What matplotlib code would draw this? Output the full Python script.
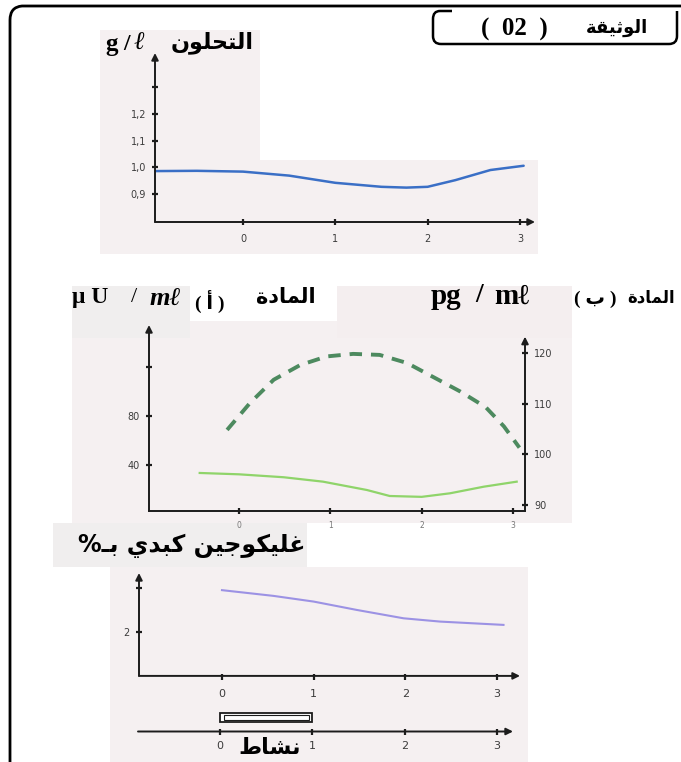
import matplotlib
matplotlib.use("Agg")
import matplotlib.pyplot as plt
from matplotlib.patches import Rectangle, PathPatch
from matplotlib.path import Path

# ---------------- data ----------------
hours_ticks = [0, 1, 2, 3]

glycemia_t = [-0.95, -0.5, 0.0, 0.5, 1.0, 1.5, 1.77, 2.0, 2.3, 2.68, 3.04]
glycemia_v = [0.986, 0.987, 0.984, 0.969, 0.942, 0.927, 0.924, 0.927, 0.952, 0.990, 1.006]
glycemia_ticks = [0.9, 1.0, 1.1, 1.2, 1.3]
glycemia_labels = ["0,9", "1,0", "1,1", "1,2", ""]

insulin_t = [-0.43, 0.0, 0.49, 0.92, 1.4, 1.65, 2.0, 2.31, 2.68, 3.04]
insulin_v = [33.5, 32.4, 30.0, 26.4, 19.6, 14.7, 14.0, 16.9, 22.3, 26.4]
insulin_ticks = [40, 80, 120]
insulin_labels = ["40", "80", ""]

glucagon_t = [-0.13, 0.12, 0.38, 0.67, 0.96, 1.25, 1.54, 1.84, 2.13, 2.42, 2.70, 2.90, 3.07]
glucagon_v = [104.8, 110.1, 114.7, 117.6, 119.3, 119.8, 119.6, 118.0, 115.2, 112.4, 109.3, 105.5, 101.3]
glucagon_ticks = [90, 100, 110, 120]

glycogen_t = [0.0, 0.56, 1.0, 1.47, 1.98, 2.38, 3.07]
glycogen_v = [3.90, 3.64, 3.38, 3.00, 2.62, 2.47, 2.32]
glycogen_ticks = [2, 4]
glycogen_labels = ["2", ""]

activity_start, activity_end = 0, 1

# ---------------- minimal Arabic shaping (presentation forms) ----------------
AR_FORMS = {
    'ا': ('\uFE8D', '\uFE8E', None, None),
    'أ': ('\uFE83', '\uFE84', None, None),
    'ب': ('\uFE8F', '\uFE90', '\uFE91', '\uFE92'),
    'ة': ('\uFE93', '\uFE94', None, None),
    'ت': ('\uFE95', '\uFE96', '\uFE97', '\uFE98'),
    'ث': ('\uFE99', '\uFE9A', '\uFE9B', '\uFE9C'),
    'ج': ('\uFE9D', '\uFE9E', '\uFE9F', '\uFEA0'),
    'ح': ('\uFEA1', '\uFEA2', '\uFEA3', '\uFEA4'),
    'د': ('\uFEA9', '\uFEAA', None, None),
    'ش': ('\uFEB5', '\uFEB6', '\uFEB7', '\uFEB8'),
    'ط': ('\uFEC1', '\uFEC2', '\uFEC3', '\uFEC4'),
    'غ': ('\uFECD', '\uFECE', '\uFECF', '\uFED0'),
    'ق': ('\uFED5', '\uFED6', '\uFED7', '\uFED8'),
    'ك': ('\uFED9', '\uFEDA', '\uFEDB', '\uFEDC'),
    'ل': ('\uFEDD', '\uFEDE', '\uFEDF', '\uFEE0'),
    'م': ('\uFEE1', '\uFEE2', '\uFEE3', '\uFEE4'),
    'ن': ('\uFEE5', '\uFEE6', '\uFEE7', '\uFEE8'),
    'و': ('\uFEED', '\uFEEE', None, None),
    'ي': ('\uFEF1', '\uFEF2', '\uFEF3', '\uFEF4'),
    'ـ': ('\u0640', '\u0640', '\u0640', '\u0640'),
}


def ar(s):
    chars = list(s)
    out = []

    def dual(c):
        return c in AR_FORMS and AR_FORMS[c][2] is not None

    for i, c in enumerate(chars):
        if c not in AR_FORMS:
            out.append(c)
            continue
        pj = i > 0 and dual(chars[i - 1])
        nj = i < len(chars) - 1 and chars[i + 1] in AR_FORMS and dual(c)
        iso, fin, ini, med = AR_FORMS[c]
        if pj and nj:
            g = med
        elif pj:
            g = fin
        elif nj:
            g = ini
        else:
            g = iso
        out.append(g)
    return ''.join(reversed(out))


# ---------------- figure ----------------
W, H = 681, 762
fig = plt.figure(figsize=(W / 100, H / 100), dpi=100)
fig.patch.set_facecolor("white")

AXC = "#1c1c1c"
TICKC = "#3c3c3c"
SERIF = ["Liberation Serif", "DejaVu Serif", "DejaVu Sans"]
ARF = ["DejaVu Sans"]


def ax_at(x0, x1, ytop, ybot):
    return fig.add_axes([x0 / W, 1 - ybot / H, (x1 - x0) / W, (ybot - ytop) / H])


# background / frame layer in pixel coordinates
bg = fig.add_axes([0, 0, 1, 1], zorder=-5)
bg.set_xlim(0, W)
bg.set_ylim(H, 0)
bg.axis("off")
PINK = "#f5f0f1"
GREY = "#f0eeee"
for (x0, y0, x1, y1, c) in [
    (100, 30, 538, 254, PINK), (260, 30, 538, 160, "white"),
    (72, 286, 572, 523, PINK), (72, 286, 190, 338, GREY), (190, 286, 337, 321, "white"),
    (97, 338, 572, 523, PINK), (337, 286, 572, 338, "#f4eeef"),
    (53, 523, 307, 567, GREY), (110, 567, 528, 762, PINK),
]:
    bg.add_patch(Rectangle((x0, y0), x1 - x0, y1 - y0, facecolor=c, edgecolor="none"))

# outer frame (left + top with rounded corner)
fv = [(10, 762), (10, 20), (10, 7), (22, 6), (681, 6)]
fc = [Path.MOVETO, Path.LINETO, Path.CURVE3, Path.CURVE3, Path.LINETO]
bg.add_patch(PathPatch(Path(fv, fc), facecolor="none", edgecolor="black", lw=2.0))
# title box
tv = [(452, 11), (440, 11), (433, 11), (433, 19), (433, 36), (433, 44), (441, 44),
      (669, 44), (677, 44), (677, 36), (677, 11)]
tc = [Path.MOVETO, Path.LINETO, Path.CURVE3, Path.CURVE3, Path.LINETO, Path.CURVE3, Path.CURVE3,
      Path.LINETO, Path.CURVE3, Path.CURVE3, Path.LINETO]
bg.add_patch(PathPatch(Path(tv, tc), facecolor="none", edgecolor="black", lw=1.8))
bg.text(514, 29, "(  02  )", family=SERIF, weight="bold", fontsize=18, ha="center", va="center")
bg.text(648, 28, ar("الوثيقة"), family=ARF, weight="bold", fontsize=13, ha="right", va="center")

# axis labels
bg.text(105, 44, "g", family=SERIF, weight="bold", fontsize=18, ha="left", va="center")
bg.text(127, 44, "/", family=SERIF, weight="bold", fontsize=17, ha="center", va="center")
bg.text(134, 44, "ℓ", family=SERIF, style="italic", fontsize=18, ha="left", va="center")
bg.text(254, 43, ar("التحلون"), family=ARF, weight="bold", fontsize=16, ha="right", va="center")

bg.text(72, 298, "μ U", family=SERIF, weight="bold", fontsize=17, ha="left", va="center")
bg.text(134, 298, "/", family=SERIF, fontsize=16, ha="center", va="center")
bg.text(150, 298, "mℓ", family=SERIF, style="italic", weight="bold", fontsize=19, ha="left", va="center")
bg.text(210, 301, "( " + ar("أ") + " )", family=SERIF + ARF, weight="bold", fontsize=14,
        ha="center", va="center")
bg.text(316, 297, ar("المادة"), family=ARF, weight="bold", fontsize=15, ha="right", va="center")

bg.text(431, 296, "pg", family=SERIF, weight="bold", fontsize=21, ha="left", va="center")
bg.text(479, 296, "/", family=SERIF, weight="bold", fontsize=20, ha="center", va="center")
bg.text(494, 296, "mℓ", family=SERIF, weight="bold", fontsize=21, ha="left", va="center")
bg.text(595, 299, "( " + ar("ب") + " )", family=SERIF + ARF, weight="bold", fontsize=14,
        ha="center", va="center")
bg.text(675, 297, ar("المادة"), family=ARF, weight="bold", fontsize=12, ha="right", va="center")

bg.text(305, 546, "%" + ar("غليكوجين كبدي بـ"), family=ARF, weight="bold", fontsize=17,
        ha="right", va="center")


def arrow(ax, p0, p1, coords="axes fraction", hl=10):
    ax.annotate("", xy=p1, xytext=p0, xycoords=coords, textcoords=coords,
                arrowprops=dict(arrowstyle="-|>", color=AXC, lw=1.4,
                                mutation_scale=hl, shrinkA=0, shrinkB=0),
                annotation_clip=False)


def style(ax):
    ax.patch.set_alpha(0)
    for s in ax.spines.values():
        s.set_visible(False)
    ax.tick_params(direction="inout", length=5, width=1.6, color=AXC,
                   labelsize=7, labelcolor=TICKC, pad=4)


# ---------------- top: glycemia ----------------
a1 = ax_at(155, 535, 53, 222)
style(a1)
a1.set_xlim(-0.953, 3.163)
a1.set_ylim(0.795, 1.429)
a1.plot(glycemia_t, glycemia_v, color="#3a6fc6", lw=1.8, solid_capstyle="round")
a1.set_xticks(hours_ticks)
a1.tick_params(axis="x", pad=6)
a1.set_yticks(glycemia_ticks)
a1.set_yticklabels(glycemia_labels)
arrow(a1, (0, 0), (1, 0))
arrow(a1, (0, 0), (0, 1))

# ---------------- middle: hormones ----------------
a2 = ax_at(149, 525, 325, 511)
style(a2)
a2.set_xlim(-0.985, 3.131)
a2.set_ylim(2.45, 154.3)
a2.plot(insulin_t, insulin_v, color="#8fd46a", lw=1.6)
a2.set_xticks(hours_ticks)
a2.set_xticklabels([str(h) for h in hours_ticks], fontsize=5.5, color="#777777")
a2.tick_params(axis="x", pad=5)
a2.set_yticks(insulin_ticks)
a2.set_yticklabels(insulin_labels)
a2.plot([0, 1], [0, 0], transform=a2.transAxes, color=AXC, lw=1.4, clip_on=False)
arrow(a2, (0, 0), (0, 1))

a3 = a2.twinx()
style(a3)
a3.set_ylim(88.8, 125.5)
a3.plot(glucagon_t, glucagon_v, color="#4d8a5f", lw=2.8, dashes=(3.2, 2.3))
a3.set_yticks(glucagon_ticks)
a3.tick_params(axis="y", labelsize=7, pad=4)
arrow(a3, (3.131, 88.8), (3.131, 123.2), coords="data")

# ---------------- bottom: liver glycogen ----------------
a4 = ax_at(139, 520, 573, 677)
style(a4)
a4.set_xlim(-0.905, 3.25)
a4.set_ylim(-0.05, 4.68)
a4.plot(glycogen_t, glycogen_v, color="#9c92e4", lw=1.5)
a4.set_xticks(hours_ticks)
a4.set_yticks(glycogen_ticks)
a4.set_yticklabels(glycogen_labels)
a4.tick_params(axis="x", labelsize=8, pad=6)
arrow(a4, (-0.905, 0), (3.25, 0), coords="data")
arrow(a4, (-0.905, 0), (-0.905, 4.68), coords="data")

# ---------------- activity timeline ----------------
a5 = ax_at(138, 513, 700, 760)
style(a5)
a5.set_xlim(-0.888, 3.173)
a5.set_ylim(-1, 1)
a5.spines["bottom"].set_position(("data", -0.05))
a5.set_yticks([])
a5.set_xticks(hours_ticks)
a5.tick_params(axis="x", labelsize=8, pad=4)
arrow(a5, (-0.888, -0.05), (3.173, -0.05), coords="data")
a5.add_patch(Rectangle((activity_start, 0.27), activity_end - activity_start, 0.30,
                       facecolor="white", edgecolor=AXC, lw=1.3))
a5.add_patch(Rectangle((activity_start + 0.04, 0.34), activity_end - activity_start - 0.08, 0.16,
                       facecolor="none", edgecolor=AXC, lw=0.8))
bg.text(270, 748, ar("نشاط"), family=ARF, weight="bold", fontsize=16, ha="center", va="center")

fig.savefig("out.png", dpi=100)
